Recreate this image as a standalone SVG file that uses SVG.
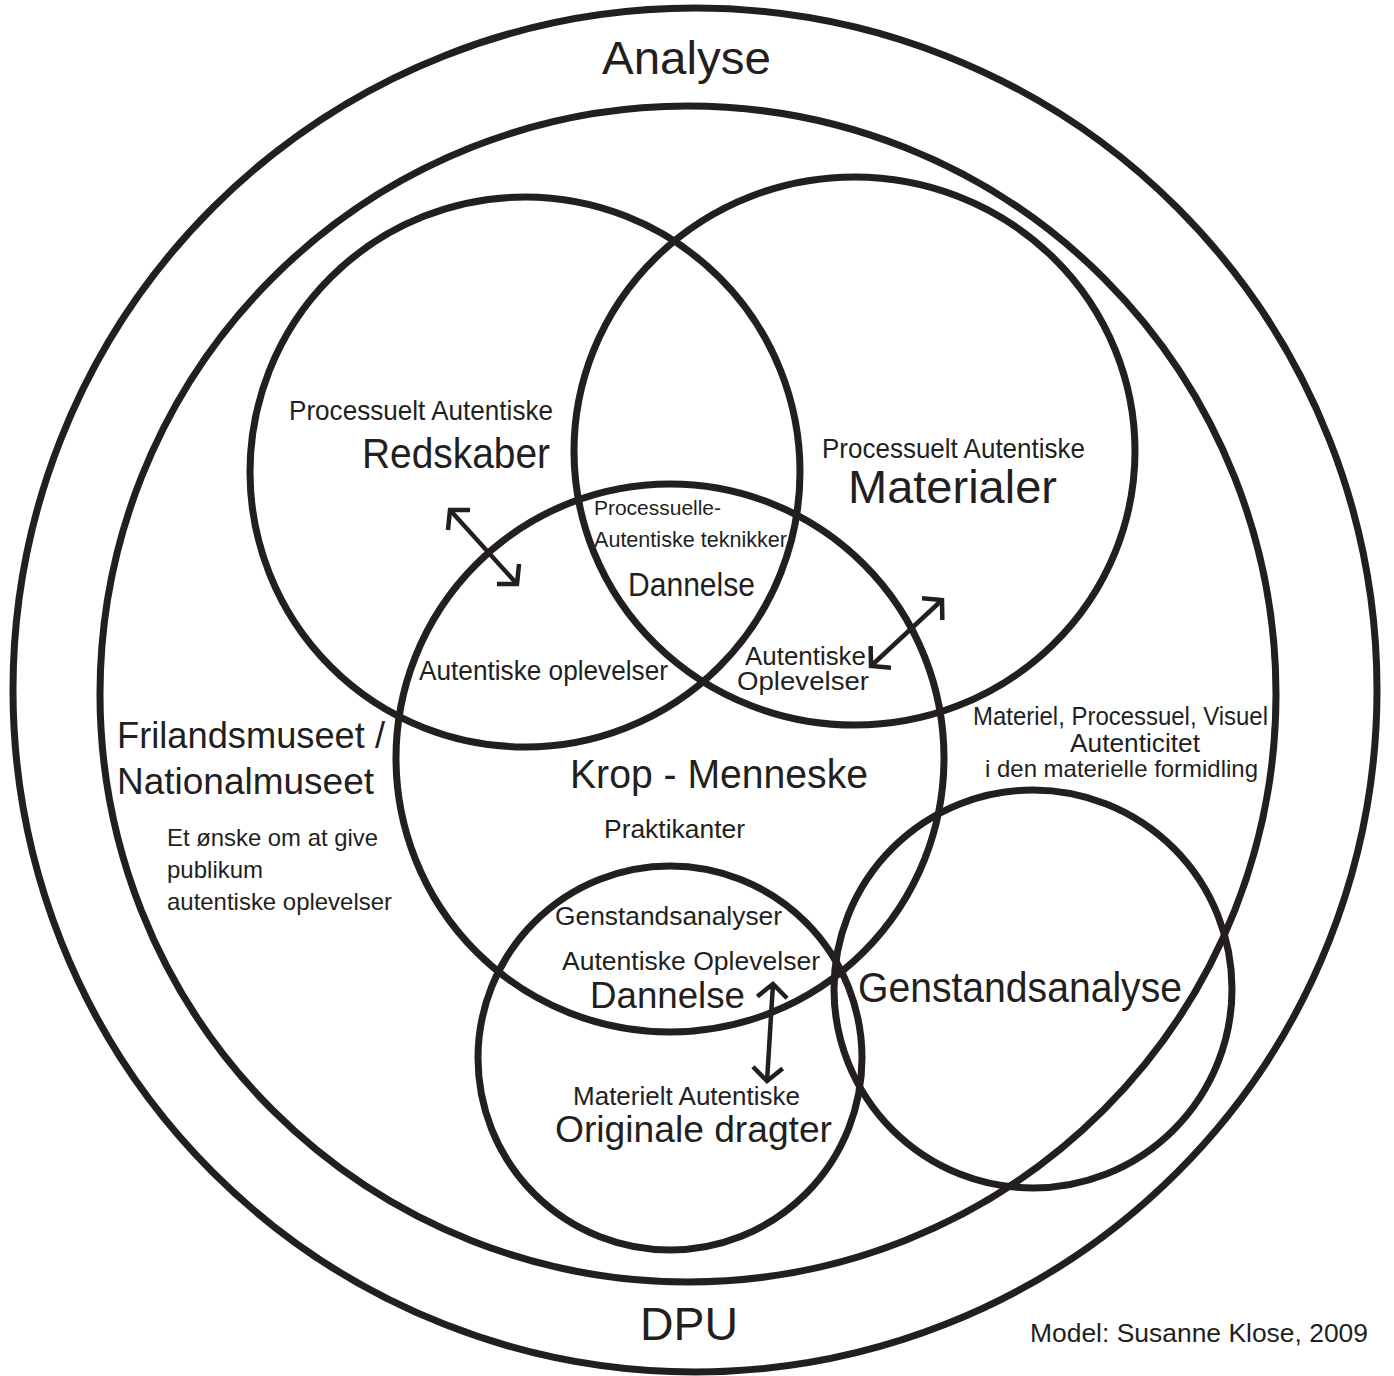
<svg xmlns="http://www.w3.org/2000/svg" width="1394" height="1376" viewBox="0 0 1394 1376">
<defs>
<style>
.c{fill:none;stroke:#231f20;stroke-width:7}
.t{font-family:"Liberation Sans",Arial,Helvetica,sans-serif;fill:#231f20}
.a{fill:none;stroke:#231f20;stroke-width:4.5;marker-start:url(#h);marker-end:url(#h)}
</style>
<marker id="h" markerUnits="userSpaceOnUse" orient="auto-start-reverse" refX="0" refY="0" markerWidth="40" markerHeight="40" viewBox="-20 -20 40 40" overflow="visible">
<path d="M-13.4,-14.9 L0,0 L-13.4,14.9" fill="none" stroke="#231f20" stroke-width="4.5" stroke-linejoin="miter"/>
</marker>
</defs>
<rect width="1394" height="1376" fill="#fff"/>
<g id="analyse">
<circle class="c" cx="695" cy="690" r="682"/>
<text class="t" x="602" y="74" font-size="46" textLength="169" lengthAdjust="spacingAndGlyphs">Analyse</text>
<text class="t" x="640" y="1340" font-size="46" textLength="98" lengthAdjust="spacingAndGlyphs">DPU</text>
</g>
<g id="museum">
<circle class="c" cx="688" cy="694" r="588"/>
<text class="t" x="117" y="748" font-size="36" textLength="268" lengthAdjust="spacingAndGlyphs">Frilandsmuseet /</text>
<text class="t" x="117" y="794" font-size="36" textLength="257" lengthAdjust="spacingAndGlyphs">Nationalmuseet</text>
<text class="t" x="167" y="846" font-size="24" textLength="211" lengthAdjust="spacingAndGlyphs">Et ønske om at give</text>
<text class="t" x="167" y="878" font-size="24">publikum</text>
<text class="t" x="167" y="910" font-size="24" textLength="225" lengthAdjust="spacingAndGlyphs">autentiske oplevelser</text>
<text class="t" x="973" y="725" font-size="25" textLength="295" lengthAdjust="spacingAndGlyphs">Materiel, Processuel, Visuel</text>
<text class="t" x="1070" y="752" font-size="26" textLength="130" lengthAdjust="spacingAndGlyphs">Autenticitet</text>
<text class="t" x="985" y="777" font-size="24" textLength="273" lengthAdjust="spacingAndGlyphs">i den materielle formidling</text>
</g>
<g id="redskaber">
<circle class="c" cx="525" cy="472" r="275"/>
<text class="t" x="289" y="420" font-size="28" textLength="264" lengthAdjust="spacingAndGlyphs">Processuelt Autentiske</text>
<text class="t" x="362" y="468" font-size="42" textLength="188" lengthAdjust="spacingAndGlyphs">Redskaber</text>
</g>
<g id="materialer">
<ellipse class="c" cx="854.5" cy="451" rx="280.5" ry="274"/>
<text class="t" x="822" y="458" font-size="28" textLength="263" lengthAdjust="spacingAndGlyphs">Processuelt Autentiske</text>
<text class="t" x="848" y="503" font-size="46" textLength="209" lengthAdjust="spacingAndGlyphs">Materialer</text>
</g>
<g id="krop">
<circle class="c" cx="670" cy="758" r="274"/>
<text class="t" x="594" y="515" font-size="21" textLength="127" lengthAdjust="spacingAndGlyphs">Processuelle-</text>
<text class="t" x="594" y="547" font-size="22" textLength="193" lengthAdjust="spacingAndGlyphs">Autentiske teknikker</text>
<text class="t" x="628" y="596" font-size="33" textLength="127" lengthAdjust="spacingAndGlyphs">Dannelse</text>
<text class="t" x="419" y="680" font-size="27" textLength="249" lengthAdjust="spacingAndGlyphs">Autentiske oplevelser</text>
<text class="t" x="745" y="665" font-size="25" textLength="121" lengthAdjust="spacingAndGlyphs">Autentiske</text>
<text class="t" x="737" y="690" font-size="25" textLength="132" lengthAdjust="spacingAndGlyphs">Oplevelser</text>
<text class="t" x="570" y="788" font-size="40" textLength="298" lengthAdjust="spacingAndGlyphs">Krop - Menneske</text>
<text class="t" x="604" y="838" font-size="26" textLength="141" lengthAdjust="spacingAndGlyphs">Praktikanter</text>
</g>
<g id="originale">
<circle class="c" cx="670" cy="1058" r="192"/>
<text class="t" x="555" y="925" font-size="25" textLength="227" lengthAdjust="spacingAndGlyphs">Genstandsanalyser</text>
<text class="t" x="562" y="970" font-size="25" textLength="258" lengthAdjust="spacingAndGlyphs">Autentiske Oplevelser</text>
<text class="t" x="590" y="1008" font-size="36" textLength="155" lengthAdjust="spacingAndGlyphs">Dannelse</text>
<text class="t" x="573" y="1105" font-size="26" textLength="227" lengthAdjust="spacingAndGlyphs">Materielt Autentiske</text>
<text class="t" x="555" y="1142" font-size="36" textLength="277" lengthAdjust="spacingAndGlyphs">Originale dragter</text>
</g>
<g id="genstandsanalyse">
<circle class="c" cx="1033" cy="989" r="199"/>
<text class="t" x="858" y="1002" font-size="42" textLength="324" lengthAdjust="spacingAndGlyphs">Genstandsanalyse</text>
</g>
<g id="connectors">
<line class="a" x1="450" y1="510" x2="517" y2="584"/>
<line class="a" x1="942" y1="600" x2="871" y2="666"/>
<line class="a" x1="773" y1="984" x2="767" y2="1081"/>
</g>
<text class="t" x="1030" y="1342" font-size="26" textLength="338" lengthAdjust="spacingAndGlyphs">Model: Susanne Klose, 2009</text>
</svg>
